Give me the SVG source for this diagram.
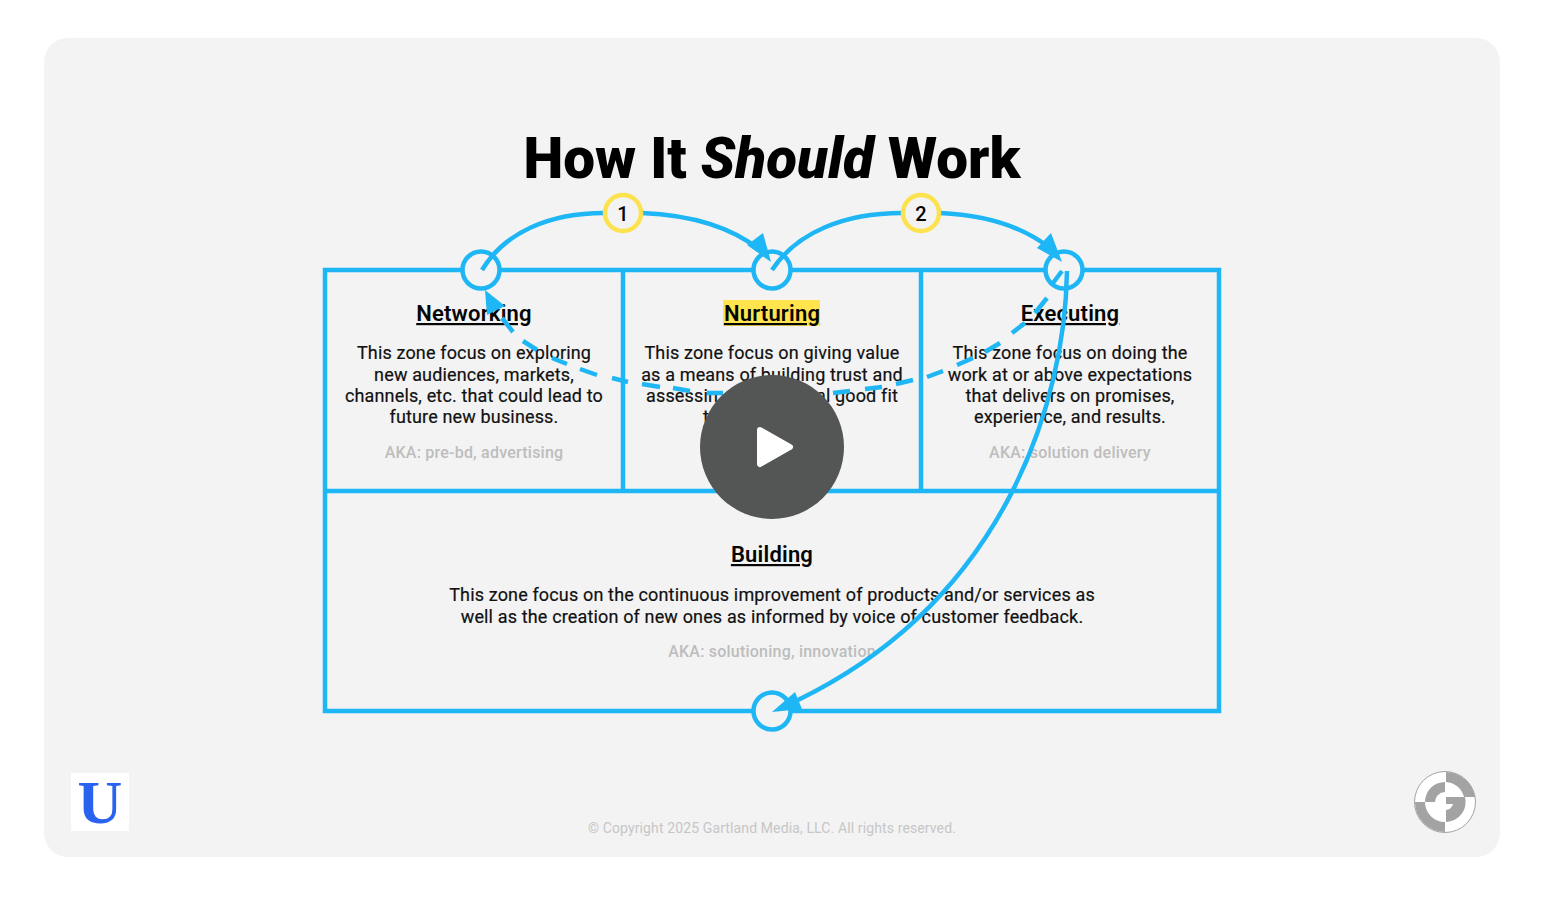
<svg xmlns="http://www.w3.org/2000/svg" width="1544" height="898" viewBox="0 0 1544 898">
<style>
text{font-family:Roboto,"Liberation Sans",sans-serif;text-anchor:middle;fill:#050505}
.h{font-size:22px;font-weight:600;text-decoration:underline;letter-spacing:.2px}
.b{font-size:18px;font-weight:450;fill:#111;stroke:#111;stroke-width:.2;letter-spacing:.15px}
.a{font-size:16px;font-weight:500;fill:#bdbdbd;letter-spacing:.22px}
.l{fill:none;stroke:#1eb6f5;stroke-width:4.5}
.n{fill:#f3f3f3;stroke:#1eb6f5;stroke-width:4.5}
.y{fill:#f3f3f3;stroke:#fde24f;stroke-width:4.5}
.t{fill:#1eb6f5;stroke:none}
.g{fill:#a3a3a3}
</style>
<rect width="1544" height="898" fill="#fff"/>
<rect x="44" y="38" width="1456" height="819" rx="24" fill="#f3f3f3"/>
<text id="title" x="772" y="178" style="font-size:58px;font-weight:900;fill:#000" textLength="497" lengthAdjust="spacingAndGlyphs">How It <tspan font-style="italic">Should</tspan> Work</text>
<g id="zones">
<rect class="l" x="325" y="270" width="894" height="441"/>
<path class="l" d="M623 270V491M921 270V491M325 491H1219"/>
</g>
<g id="networking">
<text class="h" x="474" y="321">Networking</text>
<text class="b" x="474" y="359">This zone focus on exploring</text>
<text class="b" x="474" y="380.500">new audiences, markets,</text>
<text class="b" x="474" y="402">channels, etc. that could lead to</text>
<text class="b" x="474" y="423">future new business.</text>
<text class="a" x="474" y="458">AKA: pre-bd, advertising</text>
</g>
<g id="nurturing">
<rect x="723" y="300" width="97" height="26" fill="#ffe44d"/>
<text class="h" x="772" y="321">Nurturing</text>
<text class="b" x="772" y="359">This zone focus on giving value</text>
<text class="b" x="772" y="380.500">as a means of building trust and</text>
<text class="b" x="646" y="402" style="text-anchor:start">assessin</text>
<text class="b" x="898" y="402" style="text-anchor:end">al good fit</text>
<text class="b" x="703" y="423" style="text-anchor:start">t</text>
</g>
<g id="executing">
<text class="h" x="1070" y="321">Executing</text>
<text class="b" x="1070" y="359">This zone focus on doing the</text>
<text class="b" x="1070" y="380.500">work at or above expectations</text>
<text class="b" x="1070" y="402">that delivers on promises,</text>
<text class="b" x="1070" y="423">experience, and results.</text>
<text class="a" x="1070" y="458">AKA: solution delivery</text>
</g>
<g id="building">
<text class="h" x="772" y="562">Building</text>
<text class="b" x="772" y="601">This zone focus on the continuous improvement of products and/or services as</text>
<text class="b" x="772" y="623">well as the creation of new ones as informed by voice of customer feedback.</text>
<text class="a" x="772" y="657">AKA: solutioning, innovation</text>
</g>
<g id="nodes">
<circle id="node-networking" class="n" cx="481" cy="270" r="18.500"/>
<circle id="node-nurturing" class="n" cx="772" cy="270" r="18.500"/>
<circle id="node-executing" class="n" cx="1064" cy="270" r="18.500"/>
<circle id="node-building" class="n" cx="772" cy="711" r="18.500"/>
</g>
<g id="connectors">
<path class="l" d="M482 270C505 232 550 213 604 213M642 213C690 215 730 226 760 250"/>
<path class="t" d="M771 262L747 245L763 233Z"/>
<path class="l" d="M772 270C797 232 845 213 902 213M940 213C985 215 1022 226 1050 248"/>
<path class="t" d="M1062 262L1037 248L1051 233Z"/>
<path class="l" d="M1062 271L1053 283M1047 298L1035 313M1025 323L1012 333M1000 343L985 352M973 358L957 365M943 371L927 377M913 380L896 384M882 387L865 389M850 391L833 393M723 393L707 393M690 391L673 388M660 387L642 384M628 382L612 378M597 375L580 369M567 364L552 358M537 350L523 341M513 332L502 318"/>
<path class="t" d="M485 290L487 315L505 306Z"/>
<path class="l" d="M1067 271C1065 400 1007 598 798 700"/>
<path class="t" d="M772 712L795 692L802 709Z"/>
</g>
<g id="step-1"><circle class="y" cx="623" cy="213" r="18"/><text x="623" y="220.500" style="font-size:20px;font-weight:500">1</text></g>
<g id="step-2"><circle class="y" cx="921" cy="213" r="18"/><text x="921" y="220.500" style="font-size:20px;font-weight:500">2</text></g>
<g id="play">
<circle cx="772" cy="447" r="72" fill="#545656"/>
<path d="M760 430L790 447L760 464Z" fill="#fff" stroke="#fff" stroke-width="6" stroke-linejoin="round"/>
</g>
<g id="logo-u">
<rect x="71" y="773" width="58" height="58" fill="#fff"/>
<text x="100" y="823" style="font-family:'Liberation Serif',serif;font-size:62px;font-weight:700;fill:#2a63f0">U</text>
</g>
<g id="logo-g">
<circle cx="1445" cy="802" r="30.500" fill="#fff" stroke="#a3a3a3" stroke-width="1"/>
<path class="g" d="M1446 772A30 30 0 0 1 1475 797H1464A20 20 0 0 0 1446 782Z"/>
<path class="g" d="M1415 802A30 30 0 0 0 1445 832V822A20 20 0 0 1 1425 802Z"/>
<path class="g" d="M1425 802A20 20 0 0 1 1445 782V792A10 10 0 0 0 1435 802Z"/>
<path class="g" d="M1446 797H1465A20 20 0 0 1 1446 822V810A8 8 0 0 0 1453 804H1446Z"/>
</g>
<text id="copyright" x="772" y="833" style="font-size:14px;fill:#c6c6c6;letter-spacing:.12px">© Copyright 2025 Gartland Media, LLC. All rights reserved.</text>
</svg>
